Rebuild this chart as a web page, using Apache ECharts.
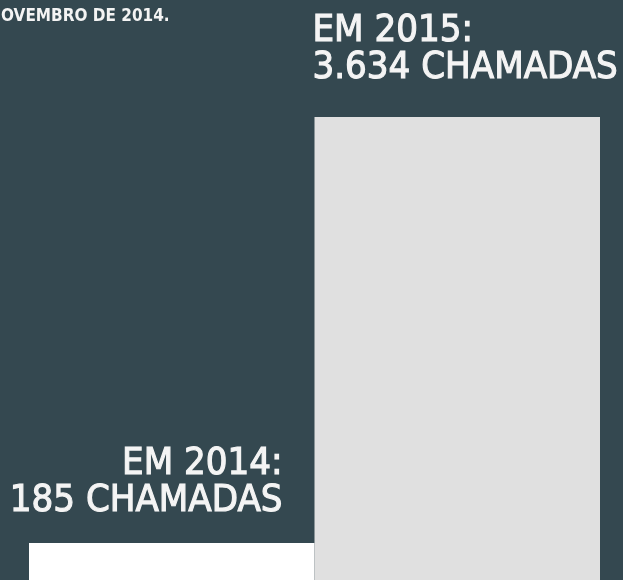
<!DOCTYPE html>
<html>
<head>
<meta charset="utf-8">
<script src="https://cdn.jsdelivr.net/npm/echarts@6/dist/echarts.min.js"></script>
<style>
  html, body { margin: 0; padding: 0; background: #344850; }
  #chart { width: 623px; height: 580px; }
</style>
</head>
<body>
<div id="chart"></div>
<script>
// Données
const years = ['2014', '2015'];
const calls = [185, 3634];
const labelLines = [
    ['EM 2014:', '185 CHAMADAS'],
    ['EM 2015:', '3.634 CHAMADAS']
];
const noteText = 'OVEMBRO DE 2014.';
const barColors = ['#ffffff', '#e0e0e0'];

const chart = echarts.init(document.getElementById('chart'));

const labelFont = 'normal 38px "DejaVu Sans Condensed"';

// Barres dessinées depuis le bas de la grille (l'image d'origine est recadrée)
function renderBar(params, api) {
    const i = api.value(0);
    const v = api.value(1);
    const top = api.coord([i, v]);
    const bandW = api.size([1, 0])[0];
    const bottom = params.coordSys.y + params.coordSys.height;
    const x0 = top[0] - bandW / 2;

    const isLeft = i === 0;
    return {
        type: 'group',
        children: [{
            type: 'rect',
            shape: { x: x0, y: top[1], width: bandW, height: bottom - top[1] },
            style: { fill: barColors[i] }
        }, {
            type: 'text',
            style: {
                text: labelLines[i].join('\n'),
                x: isLeft ? x0 + bandW - 32 : x0 - 2,
                y: isLeft ? top[1] - 23 : top[1] - 30,
                align: isLeft ? 'right' : 'left',
                verticalAlign: 'bottom',
                fill: '#f4f4f4',
                stroke: '#f4f4f4',
                lineWidth: 1.1,
                font: labelFont,
                lineHeight: 37
            }
        }]
    };
}

chart.setOption({
    backgroundColor: '#344850',
    animation: false,
    grid: { left: 29, right: 23, top: 117, bottom: 0 },
    xAxis: {
        type: 'category',
        data: years,
        show: false
    },
    yAxis: {
        type: 'value',
        min: -115,
        max: 3634,
        show: false
    },
    graphic: [{
        type: 'text',
        left: 1,
        top: 8,
        style: {
            text: noteText,
            fill: '#f4f4f4',
            font: 'bold 17px "DejaVu Sans Condensed"'
        }
    }],
    series: [{
        type: 'custom',
        data: calls.map((v, i) => [i, v]),
        renderItem: renderBar,
        clip: false
    }]
});
</script>
</body>
</html>
